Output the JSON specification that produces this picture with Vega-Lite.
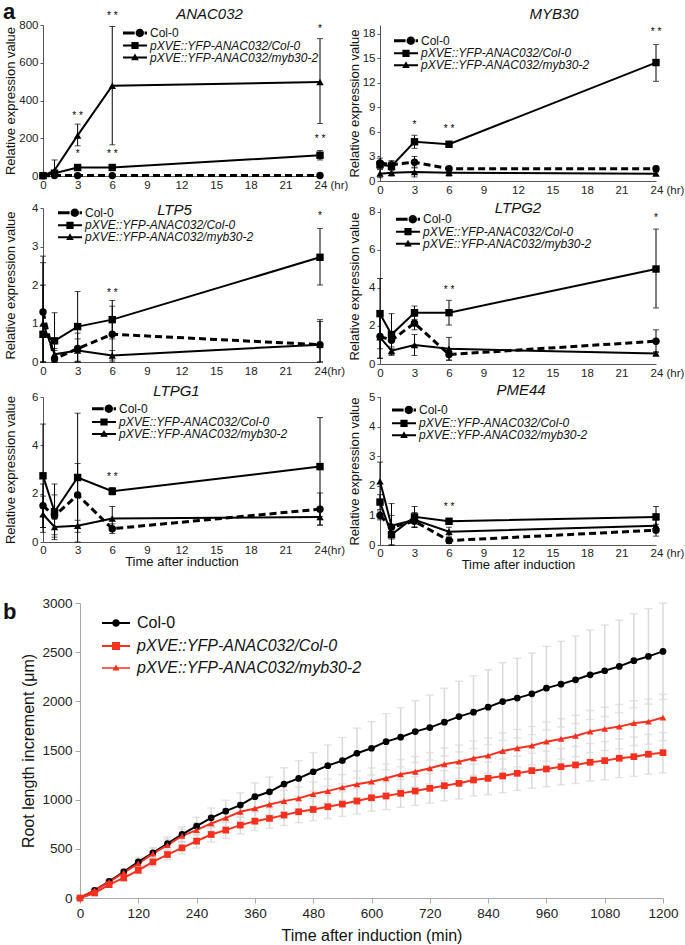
{
"$schema": "https://vega.github.io/schema/vega-lite/v6.json",
"padding": {"left": 3, "top": 0, "right": 0, "bottom": 0},
"title": {"text": "a", "anchor": "start", "frame": "bounds", "fontSize": 22, "fontWeight": "bold", "offset": -17, "dx": 0},
"datasets": {
"a": [
{"g":"ANAC032","s":"C","t":0,"v":1,"lo":0,"hi":3},{"g":"ANAC032","s":"C","t":1,"v":2,"lo":0,"hi":5},{"g":"ANAC032","s":"C","t":3,"v":2,"lo":0,"hi":5},{"g":"ANAC032","s":"C","t":6,"v":2,"lo":0,"hi":5},{"g":"ANAC032","s":"C","t":24,"v":3,"lo":0,"hi":8},
{"g":"ANAC032","s":"Y","t":0,"v":2,"lo":0,"hi":5},{"g":"ANAC032","s":"Y","t":1,"v":15,"lo":5,"hi":25},{"g":"ANAC032","s":"Y","t":3,"v":45,"lo":35,"hi":55},{"g":"ANAC032","s":"Y","t":6,"v":45,"lo":38,"hi":52},{"g":"ANAC032","s":"Y","t":24,"v":110,"lo":85,"hi":135},
{"g":"ANAC032","s":"M","t":0,"v":1,"lo":0,"hi":4},{"g":"ANAC032","s":"M","t":1,"v":30,"lo":0,"hi":85},{"g":"ANAC032","s":"M","t":3,"v":215,"lo":160,"hi":275},{"g":"ANAC032","s":"M","t":6,"v":478,"lo":165,"hi":792},{"g":"ANAC032","s":"M","t":24,"v":498,"lo":278,"hi":728},
{"g":"MYB30","s":"C","t":0,"v":2.2,"lo":1.6,"hi":2.8},{"g":"MYB30","s":"C","t":1,"v":2.0,"lo":1.5,"hi":2.5},{"g":"MYB30","s":"C","t":3,"v":2.3,"lo":1.6,"hi":3.0},{"g":"MYB30","s":"C","t":6,"v":1.5,"lo":1.2,"hi":1.8},{"g":"MYB30","s":"C","t":24,"v":1.5,"lo":1.2,"hi":1.8},
{"g":"MYB30","s":"Y","t":0,"v":2.0,"lo":1.5,"hi":2.5},{"g":"MYB30","s":"Y","t":1,"v":1.8,"lo":1.3,"hi":2.3},{"g":"MYB30","s":"Y","t":3,"v":4.8,"lo":4.0,"hi":5.6},{"g":"MYB30","s":"Y","t":6,"v":4.5,"lo":4.2,"hi":4.8},{"g":"MYB30","s":"Y","t":24,"v":14.5,"lo":12.2,"hi":16.7},
{"g":"MYB30","s":"M","t":0,"v":0.9,"lo":0.4,"hi":1.4},{"g":"MYB30","s":"M","t":1,"v":1.0,"lo":0.6,"hi":1.4},{"g":"MYB30","s":"M","t":3,"v":1.1,"lo":0.5,"hi":1.7},{"g":"MYB30","s":"M","t":6,"v":1.0,"lo":0.6,"hi":1.4},{"g":"MYB30","s":"M","t":24,"v":0.9,"lo":0.7,"hi":1.1},
{"g":"LTP5","s":"C","t":0,"v":1.3,"lo":0,"hi":2.58},{"g":"LTP5","s":"C","t":1,"v":0.08,"lo":0,"hi":0.3},{"g":"LTP5","s":"C","t":3,"v":0.35,"lo":0,"hi":0.75},{"g":"LTP5","s":"C","t":6,"v":0.72,"lo":0,"hi":1.45},{"g":"LTP5","s":"C","t":24,"v":0.45,"lo":0,"hi":1.05},
{"g":"LTP5","s":"Y","t":0,"v":0.72,"lo":0,"hi":2.75},{"g":"LTP5","s":"Y","t":1,"v":0.55,"lo":0,"hi":1.28},{"g":"LTP5","s":"Y","t":3,"v":0.92,"lo":0,"hi":1.83},{"g":"LTP5","s":"Y","t":6,"v":1.1,"lo":0.6,"hi":1.6},{"g":"LTP5","s":"Y","t":24,"v":2.72,"lo":2.0,"hi":3.47},
{"g":"LTP5","s":"M","t":0,"v":1.0,"lo":0,"hi":2.0},{"g":"LTP5","s":"M","t":1,"v":0.2,"lo":0.05,"hi":0.35},{"g":"LTP5","s":"M","t":3,"v":0.3,"lo":0.02,"hi":0.6},{"g":"LTP5","s":"M","t":6,"v":0.17,"lo":0.05,"hi":0.3},{"g":"LTP5","s":"M","t":24,"v":0.45,"lo":0,"hi":1.1},
{"g":"LTPG2","s":"C","t":0,"v":1.45,"lo":0.3,"hi":2.6},{"g":"LTPG2","s":"C","t":1,"v":1.25,"lo":0.8,"hi":1.7},{"g":"LTPG2","s":"C","t":3,"v":2.15,"lo":1.8,"hi":2.5},{"g":"LTPG2","s":"C","t":6,"v":0.5,"lo":0.2,"hi":0.8},{"g":"LTPG2","s":"C","t":24,"v":1.2,"lo":0.6,"hi":1.8},
{"g":"LTPG2","s":"Y","t":0,"v":2.65,"lo":0.8,"hi":4.5},{"g":"LTPG2","s":"Y","t":1,"v":1.55,"lo":0.45,"hi":2.65},{"g":"LTPG2","s":"Y","t":3,"v":2.7,"lo":2.35,"hi":3.05},{"g":"LTPG2","s":"Y","t":6,"v":2.7,"lo":2.05,"hi":3.35},{"g":"LTPG2","s":"Y","t":24,"v":5.0,"lo":2.95,"hi":7.1},
{"g":"LTPG2","s":"M","t":0,"v":1.4,"lo":0.3,"hi":2.5},{"g":"LTPG2","s":"M","t":1,"v":0.7,"lo":0.5,"hi":0.9},{"g":"LTPG2","s":"M","t":3,"v":1.0,"lo":0.45,"hi":1.55},{"g":"LTPG2","s":"M","t":6,"v":0.8,"lo":0.2,"hi":1.4},{"g":"LTPG2","s":"M","t":24,"v":0.55,"lo":0.45,"hi":0.65},
{"g":"LTPG1","s":"C","t":0,"v":1.5,"lo":0.6,"hi":2.4},{"g":"LTPG1","s":"C","t":1,"v":1.08,"lo":0.2,"hi":1.95},{"g":"LTPG1","s":"C","t":3,"v":1.95,"lo":0.65,"hi":3.25},{"g":"LTPG1","s":"C","t":6,"v":0.55,"lo":0.35,"hi":0.75},{"g":"LTPG1","s":"C","t":24,"v":1.36,"lo":0.7,"hi":2.03},
{"g":"LTPG1","s":"Y","t":0,"v":2.74,"lo":0.6,"hi":4.88},{"g":"LTPG1","s":"Y","t":1,"v":1.25,"lo":0.1,"hi":2.4},{"g":"LTPG1","s":"Y","t":3,"v":2.67,"lo":0,"hi":5.33},{"g":"LTPG1","s":"Y","t":6,"v":2.1,"lo":1.95,"hi":2.25},{"g":"LTPG1","s":"Y","t":24,"v":3.12,"lo":1.05,"hi":5.15},
{"g":"LTPG1","s":"M","t":0,"v":1.15,"lo":0.4,"hi":1.9},{"g":"LTPG1","s":"M","t":1,"v":0.62,"lo":0.3,"hi":0.95},{"g":"LTPG1","s":"M","t":3,"v":0.67,"lo":0.4,"hi":0.9},{"g":"LTPG1","s":"M","t":6,"v":0.97,"lo":0.47,"hi":1.47},{"g":"LTPG1","s":"M","t":24,"v":1.03,"lo":0.7,"hi":1.35},
{"g":"PME44","s":"C","t":0,"v":1.0,"lo":0.85,"hi":1.15},{"g":"PME44","s":"C","t":1,"v":0.6,"lo":0.2,"hi":1.0},{"g":"PME44","s":"C","t":3,"v":0.8,"lo":0.6,"hi":1.0},{"g":"PME44","s":"C","t":6,"v":0.15,"lo":0.05,"hi":0.25},{"g":"PME44","s":"C","t":24,"v":0.5,"lo":0.3,"hi":0.7},
{"g":"PME44","s":"Y","t":0,"v":1.45,"lo":1.2,"hi":1.7},{"g":"PME44","s":"Y","t":1,"v":0.35,"lo":0,"hi":0.7},{"g":"PME44","s":"Y","t":3,"v":0.95,"lo":0.6,"hi":1.3},{"g":"PME44","s":"Y","t":6,"v":0.8,"lo":0.7,"hi":0.9},{"g":"PME44","s":"Y","t":24,"v":0.95,"lo":0.6,"hi":1.3},
{"g":"PME44","s":"M","t":0,"v":2.15,"lo":1.5,"hi":2.8},{"g":"PME44","s":"M","t":1,"v":0.65,"lo":0,"hi":1.4},{"g":"PME44","s":"M","t":3,"v":0.85,"lo":0.6,"hi":1.1},{"g":"PME44","s":"M","t":6,"v":0.45,"lo":0.3,"hi":0.6},{"g":"PME44","s":"M","t":24,"v":0.65,"lo":0.45,"hi":0.85}
],
"stars": [
{"g":"ANAC032","t":3,"y":320,"lab":"* *"},{"g":"ANAC032","t":3,"y":118,"lab":"*"},{"g":"ANAC032","t":6,"y":850,"lab":"* *"},{"g":"ANAC032","t":6,"y":118,"lab":"* *"},{"g":"ANAC032","t":24,"y":780,"lab":"*"},{"g":"ANAC032","t":24,"y":197,"lab":"* *"},
{"g":"MYB30","t":3,"y":6.8,"lab":"*"},{"g":"MYB30","t":6,"y":6.4,"lab":"* *"},{"g":"MYB30","t":24,"y":18.2,"lab":"* *"},
{"g":"LTP5","t":6,"y":1.78,"lab":"* *"},{"g":"LTP5","t":24,"y":3.78,"lab":"*"},
{"g":"LTPG2","t":6,"y":3.9,"lab":"* *"},{"g":"LTPG2","t":24,"y":7.7,"lab":"*"},
{"g":"LTPG1","t":6,"y":2.67,"lab":"* *"},
{"g":"PME44","t":6,"y":1.3,"lab":"* *"}
],
"b": [
{"s":"C","t":0,"v":0,"e":0},{"s":"C","t":30,"v":78,"e":15},{"s":"C","t":60,"v":170,"e":25},{"s":"C","t":90,"v":265,"e":35},{"s":"C","t":120,"v":367,"e":45},{"s":"C","t":150,"v":459,"e":55},{"s":"C","t":180,"v":554,"e":65},{"s":"C","t":210,"v":646,"e":75},{"s":"C","t":240,"v":730,"e":90},{"s":"C","t":270,"v":815,"e":100},{"s":"C","t":300,"v":883,"e":110},{"s":"C","t":330,"v":945,"e":125},{"s":"C","t":360,"v":1030,"e":140},{"s":"C","t":390,"v":1080,"e":150},{"s":"C","t":420,"v":1159,"e":165},{"s":"C","t":450,"v":1216,"e":180},{"s":"C","t":480,"v":1284,"e":195},{"s":"C","t":510,"v":1346,"e":210},{"s":"C","t":540,"v":1397,"e":235},{"s":"C","t":570,"v":1472,"e":255},{"s":"C","t":600,"v":1523,"e":270},{"s":"C","t":630,"v":1590,"e":285},{"s":"C","t":660,"v":1635,"e":300},{"s":"C","t":690,"v":1692,"e":315},{"s":"C","t":720,"v":1733,"e":330},{"s":"C","t":750,"v":1788,"e":345},{"s":"C","t":780,"v":1845,"e":360},{"s":"C","t":810,"v":1890,"e":370},{"s":"C","t":840,"v":1941,"e":380},{"s":"C","t":870,"v":1998,"e":395},{"s":"C","t":900,"v":2033,"e":405},{"s":"C","t":930,"v":2076,"e":415},{"s":"C","t":960,"v":2134,"e":425},{"s":"C","t":990,"v":2175,"e":435},{"s":"C","t":1020,"v":2219,"e":445},{"s":"C","t":1050,"v":2270,"e":455},{"s":"C","t":1080,"v":2311,"e":465},{"s":"C","t":1110,"v":2355,"e":470},{"s":"C","t":1140,"v":2413,"e":478},{"s":"C","t":1170,"v":2457,"e":485},{"s":"C","t":1200,"v":2508,"e":490},
{"s":"M","t":0,"v":0,"e":0},{"s":"M","t":30,"v":78,"e":12},{"s":"M","t":60,"v":163,"e":20},{"s":"M","t":90,"v":258,"e":30},{"s":"M","t":120,"v":350,"e":40},{"s":"M","t":150,"v":452,"e":50},{"s":"M","t":180,"v":537,"e":60},{"s":"M","t":210,"v":632,"e":65},{"s":"M","t":240,"v":690,"e":75},{"s":"M","t":270,"v":758,"e":80},{"s":"M","t":300,"v":815,"e":90},{"s":"M","t":330,"v":877,"e":95},{"s":"M","t":360,"v":911,"e":100},{"s":"M","t":390,"v":951,"e":105},{"s":"M","t":420,"v":985,"e":110},{"s":"M","t":450,"v":1013,"e":115},{"s":"M","t":480,"v":1057,"e":120},{"s":"M","t":510,"v":1087,"e":125},{"s":"M","t":540,"v":1125,"e":130},{"s":"M","t":570,"v":1156,"e":135},{"s":"M","t":600,"v":1183,"e":140},{"s":"M","t":630,"v":1217,"e":145},{"s":"M","t":660,"v":1258,"e":150},{"s":"M","t":690,"v":1284,"e":155},{"s":"M","t":720,"v":1319,"e":160},{"s":"M","t":750,"v":1360,"e":165},{"s":"M","t":780,"v":1386,"e":170},{"s":"M","t":810,"v":1421,"e":175},{"s":"M","t":840,"v":1448,"e":180},{"s":"M","t":870,"v":1495,"e":185},{"s":"M","t":900,"v":1523,"e":190},{"s":"M","t":930,"v":1549,"e":195},{"s":"M","t":960,"v":1590,"e":200},{"s":"M","t":990,"v":1618,"e":205},{"s":"M","t":1020,"v":1648,"e":210},{"s":"M","t":1050,"v":1692,"e":215},{"s":"M","t":1080,"v":1720,"e":220},{"s":"M","t":1110,"v":1743,"e":225},{"s":"M","t":1140,"v":1778,"e":228},{"s":"M","t":1170,"v":1794,"e":230},{"s":"M","t":1200,"v":1835,"e":235},
{"s":"Y","t":0,"v":0,"e":0},{"s":"Y","t":30,"v":51,"e":12},{"s":"Y","t":60,"v":136,"e":20},{"s":"Y","t":90,"v":204,"e":28},{"s":"Y","t":120,"v":282,"e":35},{"s":"Y","t":150,"v":367,"e":45},{"s":"Y","t":180,"v":442,"e":55},{"s":"Y","t":210,"v":510,"e":62},{"s":"Y","t":240,"v":578,"e":70},{"s":"Y","t":270,"v":646,"e":78},{"s":"Y","t":300,"v":690,"e":85},{"s":"Y","t":330,"v":741,"e":90},{"s":"Y","t":360,"v":781,"e":95},{"s":"Y","t":390,"v":809,"e":100},{"s":"Y","t":420,"v":843,"e":105},{"s":"Y","t":450,"v":877,"e":110},{"s":"Y","t":480,"v":900,"e":115},{"s":"Y","t":510,"v":928,"e":120},{"s":"Y","t":540,"v":955,"e":125},{"s":"Y","t":570,"v":986,"e":130},{"s":"Y","t":600,"v":1019,"e":135},{"s":"Y","t":630,"v":1037,"e":138},{"s":"Y","t":660,"v":1064,"e":142},{"s":"Y","t":690,"v":1088,"e":146},{"s":"Y","t":720,"v":1115,"e":150},{"s":"Y","t":750,"v":1142,"e":154},{"s":"Y","t":780,"v":1166,"e":158},{"s":"Y","t":810,"v":1200,"e":162},{"s":"Y","t":840,"v":1217,"e":166},{"s":"Y","t":870,"v":1241,"e":170},{"s":"Y","t":900,"v":1268,"e":174},{"s":"Y","t":930,"v":1295,"e":178},{"s":"Y","t":960,"v":1312,"e":182},{"s":"Y","t":990,"v":1335,"e":185},{"s":"Y","t":1020,"v":1353,"e":188},{"s":"Y","t":1050,"v":1380,"e":191},{"s":"Y","t":1080,"v":1397,"e":194},{"s":"Y","t":1110,"v":1421,"e":197},{"s":"Y","t":1140,"v":1437,"e":200},{"s":"Y","t":1170,"v":1462,"e":202},{"s":"Y","t":1200,"v":1478,"e":205}
]
},
"columns": 1,
"spacing": 24,
"resolve": {"scale": {"x": "independent", "y": "independent", "shape": "independent", "color": "independent"}, "legend": {"shape": "independent", "color": "independent"}},
"concat": [
{"columns": 2, "spacing": {"row": 4, "column": 0},
 "resolve": {"scale": {"x": "independent", "y": "independent", "shape": "independent", "color": "independent"}, "legend": {"shape": "independent", "color": "independent"}},
 "concat": [
{"width": 277, "height": 151,
 "title": {"text": "ANAC032", "fontStyle": "italic", "fontWeight": "normal", "fontSize": 15, "frame": "group", "dx": 28, "offset": -11},
 "resolve": {"scale": {"shape": "independent"}, "legend": {"shape": "independent"}},
 "layer": [
  {"data": {"name": "a"}, "transform": [{"filter": "datum.g == 'ANAC032' && datum.s == 'C'"}], "mark": {"type": "line", "strokeDash": [7,4], "strokeWidth": 3, "color": "black"},
   "encoding": {
    "x": {"field": "t", "type": "quantitative", "scale": {"domain": [0,24], "nice": false}, "title": null, "axis": {"values": [0,3,6,9,12,15,18,21,24], "format": "d", "tickCount": 30, "labelOverlap": false, "labelExpr": "datum.value == 24 ? '24 (hr)' : datum.label", "labelAlign": {"condition": {"test": "datum.value == 24", "value": "left"}, "value": "center"}, "labelOffset": {"condition": {"test": "datum.value == 24", "value": -6}, "value": 0}, "ticks": false, "labelPadding": 3, "domainColor": "#555", "labelFontSize": 11.5}},
    "y": {"field": "v", "type": "quantitative", "scale": {"domain": [0,800], "nice": false}, "title": "Relative expression value", "axis": {"values": [0,200,400,600,800], "format": "d", "tickCount": 30, "labelOverlap": false, "tickSize": 3, "tickColor": "#555", "domainColor": "#555", "labelPadding": 2, "labelFontSize": 11.5, "titleFontSize": 13, "titleX": -33, "titleBaseline": "middle"}}}},
  {"data": {"name": "a"}, "transform": [{"filter": "datum.g == 'ANAC032' && datum.s != 'C'"}], "mark": {"type": "line", "strokeWidth": 2, "color": "black"},
   "encoding": {"x": {"field": "t", "type": "quantitative", "scale": {"domain": [0,24], "nice": false}, "title": null}, "y": {"field": "v", "type": "quantitative", "scale": {"domain": [0,800], "nice": false}, "title": "Relative expression value"}, "detail": {"field": "s"}}},
  {"data": {"name": "a"}, "transform": [{"filter": "datum.g == 'ANAC032'"}], "mark": {"type": "errorbar", "ticks": {"size": 6}, "color": "black", "thickness": 1},
   "encoding": {"x": {"field": "t", "type": "quantitative", "scale": {"domain": [0,24], "nice": false}, "title": null}, "y": {"field": "lo", "type": "quantitative", "scale": {"domain": [0,800], "nice": false}, "title": "Relative expression value"}, "y2": {"field": "hi"}}},
  {"data": {"name": "a"}, "transform": [{"filter": "datum.g == 'ANAC032'"}], "mark": {"type": "point", "filled": true, "opacity": 1, "color": "black", "size": 55},
   "encoding": {"x": {"field": "t", "type": "quantitative", "scale": {"domain": [0,24], "nice": false}, "title": null}, "y": {"field": "v", "type": "quantitative", "scale": {"domain": [0,800], "nice": false}, "title": "Relative expression value"},
    "shape": {"field": "s", "type": "nominal", "scale": {"domain": ["C","Y","M"], "range": ["circle","square","triangle-up"]}, "legend": null}}},
  {"data": {"name": "stars"}, "transform": [{"filter": "datum.g == 'ANAC032'"}], "mark": {"type": "text", "fontSize": 10, "baseline": "middle"},
   "encoding": {"x": {"field": "t", "type": "quantitative", "scale": {"domain": [0,24], "nice": false}, "title": null}, "y": {"field": "y", "type": "quantitative", "scale": {"domain": [0,800], "nice": false}, "title": "Relative expression value"}, "text": {"field": "lab"}}},
  {"data": {"name": "a"}, "transform": [{"filter": "datum.t < 0"}], "mark": {"type": "point", "filled": true, "opacity": 1, "color": "black"},
   "encoding": {"shape": {"field": "s", "type": "nominal", "scale": {"domain": ["C"], "range": ["M-1,-0.375H1.9V0.375H-1Z M4.25,0A1.05,1.05,0,1,1,2.15,0A1.05,1.05,0,1,1,4.25,0Z M4.4,-0.375H5V0.375H4.4Z"]},
    "legend": {"title": null, "orient": "none", "legendX": 78, "legendY": 2, "symbolSize": 64, "symbolStrokeWidth": 0, "labelFontSize": 12, "labelLimit": 0, "labelOffset": 17, "rowPadding": 0, "labelExpr": "'Col-0'", "labelFontStyle": "normal"}}}},
  {"data": {"name": "a"}, "transform": [{"filter": "datum.t < 0"}], "mark": {"type": "point", "filled": true, "opacity": 1, "color": "black"},
   "encoding": {"shape": {"field": "s", "type": "nominal", "scale": {"domain": ["Y","M"], "range": ["M-1,-0.25H5V0.25H-1Z M1.1,-0.9H2.9V0.9H1.1Z", "M-1,-0.25H5V0.25H-1Z M2,-1L2.95,0.7H1.05Z"]},
    "legend": {"title": null, "orient": "none", "legendX": 78, "legendY": 14.5, "symbolSize": 64, "symbolStrokeWidth": 0, "labelFontSize": 12, "labelLimit": 0, "labelOffset": 17, "rowPadding": 0, "labelExpr": "datum.value == 'Y' ? 'pXVE::YFP-ANAC032/Col-0' : 'pXVE::YFP-ANAC032/myb30-2'", "labelFontStyle": "italic"}}}}
 ]},
{"width": 276, "height": 156,
 "title": {"text": "MYB30", "fontStyle": "italic", "fontWeight": "normal", "fontSize": 15, "frame": "group", "dx": 36, "offset": 3},
 "resolve": {"scale": {"shape": "independent"}, "legend": {"shape": "independent"}},
 "layer": [
  {"data": {"name": "a"}, "transform": [{"filter": "datum.g == 'MYB30' && datum.s == 'C'"}], "mark": {"type": "line", "strokeDash": [7,4], "strokeWidth": 3, "color": "black"},
   "encoding": {
    "x": {"field": "t", "type": "quantitative", "scale": {"domain": [0,24], "nice": false}, "title": null, "axis": {"values": [0,3,6,9,12,15,18,21,24], "format": "d", "tickCount": 30, "labelOverlap": false, "labelExpr": "datum.value == 24 ? '24 (hr)' : datum.label", "labelAlign": {"condition": {"test": "datum.value == 24", "value": "left"}, "value": "center"}, "labelOffset": {"condition": {"test": "datum.value == 24", "value": -6}, "value": 0}, "ticks": false, "labelPadding": 3, "domainColor": "#555", "labelFontSize": 11.5}},
    "y": {"field": "v", "type": "quantitative", "scale": {"domain": [0,19.1], "nice": false}, "title": "Relative expression value", "axis": {"values": [0,3,6,9,12,15,18], "format": "d", "tickCount": 30, "labelOverlap": false, "tickSize": 3, "tickColor": "#555", "domainColor": "#555", "labelPadding": 2, "labelFontSize": 11.5, "titleFontSize": 13, "titleX": -26, "titleBaseline": "middle"}}}},
  {"data": {"name": "a"}, "transform": [{"filter": "datum.g == 'MYB30' && datum.s != 'C'"}], "mark": {"type": "line", "strokeWidth": 2, "color": "black"},
   "encoding": {"x": {"field": "t", "type": "quantitative", "scale": {"domain": [0,24], "nice": false}, "title": null}, "y": {"field": "v", "type": "quantitative", "scale": {"domain": [0,19.1], "nice": false}, "title": "Relative expression value"}, "detail": {"field": "s"}}},
  {"data": {"name": "a"}, "transform": [{"filter": "datum.g == 'MYB30'"}], "mark": {"type": "errorbar", "ticks": {"size": 6}, "color": "black", "thickness": 1},
   "encoding": {"x": {"field": "t", "type": "quantitative", "scale": {"domain": [0,24], "nice": false}, "title": null}, "y": {"field": "lo", "type": "quantitative", "scale": {"domain": [0,19.1], "nice": false}, "title": "Relative expression value"}, "y2": {"field": "hi"}}},
  {"data": {"name": "a"}, "transform": [{"filter": "datum.g == 'MYB30'"}], "mark": {"type": "point", "filled": true, "opacity": 1, "color": "black", "size": 55},
   "encoding": {"x": {"field": "t", "type": "quantitative", "scale": {"domain": [0,24], "nice": false}, "title": null}, "y": {"field": "v", "type": "quantitative", "scale": {"domain": [0,19.1], "nice": false}, "title": "Relative expression value"},
    "shape": {"field": "s", "type": "nominal", "scale": {"domain": ["C","Y","M"], "range": ["circle","square","triangle-up"]}, "legend": null}}},
  {"data": {"name": "stars"}, "transform": [{"filter": "datum.g == 'MYB30'"}], "mark": {"type": "text", "fontSize": 10, "baseline": "middle"},
   "encoding": {"x": {"field": "t", "type": "quantitative", "scale": {"domain": [0,24], "nice": false}, "title": null}, "y": {"field": "y", "type": "quantitative", "scale": {"domain": [0,19.1], "nice": false}, "title": "Relative expression value"}, "text": {"field": "lab"}}},
  {"data": {"name": "a"}, "transform": [{"filter": "datum.t < 0"}], "mark": {"type": "point", "filled": true, "opacity": 1, "color": "black"},
   "encoding": {"shape": {"field": "s", "type": "nominal", "scale": {"domain": ["C"], "range": ["M-1,-0.375H1.9V0.375H-1Z M4.25,0A1.05,1.05,0,1,1,2.15,0A1.05,1.05,0,1,1,4.25,0Z M4.4,-0.375H5V0.375H4.4Z"]},
    "legend": {"title": null, "orient": "none", "legendX": 12, "legendY": 9.7, "symbolSize": 64, "symbolStrokeWidth": 0, "labelFontSize": 12, "labelLimit": 0, "labelOffset": 17, "rowPadding": 0, "labelExpr": "'Col-0'", "labelFontStyle": "normal"}}}},
  {"data": {"name": "a"}, "transform": [{"filter": "datum.t < 0"}], "mark": {"type": "point", "filled": true, "opacity": 1, "color": "black"},
   "encoding": {"shape": {"field": "s", "type": "nominal", "scale": {"domain": ["Y","M"], "range": ["M-1,-0.25H5V0.25H-1Z M1.1,-0.9H2.9V0.9H1.1Z", "M-1,-0.25H5V0.25H-1Z M2,-1L2.95,0.7H1.05Z"]},
    "legend": {"title": null, "orient": "none", "legendX": 12, "legendY": 22.3, "symbolSize": 64, "symbolStrokeWidth": 0, "labelFontSize": 12, "labelLimit": 0, "labelOffset": 17, "rowPadding": 0, "labelExpr": "datum.value == 'Y' ? 'pXVE::YFP-ANAC032/Col-0' : 'pXVE::YFP-ANAC032/myb30-2'", "labelFontStyle": "italic"}}}}
 ]},
{"width": 277, "height": 154,
 "title": {"text": "LTP5", "fontStyle": "italic", "fontWeight": "normal", "fontSize": 15, "frame": "group", "dx": -7, "offset": -16},
 "resolve": {"scale": {"shape": "independent"}, "legend": {"shape": "independent"}},
 "layer": [
  {"data": {"name": "a"}, "transform": [{"filter": "datum.g == 'LTP5' && datum.s == 'C'"}], "mark": {"type": "line", "strokeDash": [7,4], "strokeWidth": 3, "color": "black"},
   "encoding": {
    "x": {"field": "t", "type": "quantitative", "scale": {"domain": [0,24], "nice": false}, "title": null, "axis": {"values": [0,3,6,9,12,15,18,21,24], "format": "d", "tickCount": 30, "labelOverlap": false, "labelExpr": "datum.value == 24 ? '24(hr)' : datum.label", "labelAlign": {"condition": {"test": "datum.value == 24", "value": "left"}, "value": "center"}, "labelOffset": {"condition": {"test": "datum.value == 24", "value": -6}, "value": 0}, "ticks": false, "labelPadding": 3, "domainColor": "#555", "labelFontSize": 11.5}},
    "y": {"field": "v", "type": "quantitative", "scale": {"domain": [0,4], "nice": false}, "title": "Relative expression value", "axis": {"values": [0,1,2,3,4], "format": "d", "tickCount": 30, "labelOverlap": false, "tickSize": 3, "tickColor": "#555", "domainColor": "#555", "labelPadding": 2, "labelFontSize": 11.5, "titleFontSize": 13, "titleX": -33, "titleBaseline": "middle"}}}},
  {"data": {"name": "a"}, "transform": [{"filter": "datum.g == 'LTP5' && datum.s != 'C'"}], "mark": {"type": "line", "strokeWidth": 2, "color": "black"},
   "encoding": {"x": {"field": "t", "type": "quantitative", "scale": {"domain": [0,24], "nice": false}, "title": null}, "y": {"field": "v", "type": "quantitative", "scale": {"domain": [0,4], "nice": false}, "title": "Relative expression value"}, "detail": {"field": "s"}}},
  {"data": {"name": "a"}, "transform": [{"filter": "datum.g == 'LTP5'"}], "mark": {"type": "errorbar", "ticks": {"size": 6}, "color": "black", "thickness": 1},
   "encoding": {"x": {"field": "t", "type": "quantitative", "scale": {"domain": [0,24], "nice": false}, "title": null}, "y": {"field": "lo", "type": "quantitative", "scale": {"domain": [0,4], "nice": false}, "title": "Relative expression value"}, "y2": {"field": "hi"}}},
  {"data": {"name": "a"}, "transform": [{"filter": "datum.g == 'LTP5'"}], "mark": {"type": "point", "filled": true, "opacity": 1, "color": "black", "size": 55},
   "encoding": {"x": {"field": "t", "type": "quantitative", "scale": {"domain": [0,24], "nice": false}, "title": null}, "y": {"field": "v", "type": "quantitative", "scale": {"domain": [0,4], "nice": false}, "title": "Relative expression value"},
    "shape": {"field": "s", "type": "nominal", "scale": {"domain": ["C","Y","M"], "range": ["circle","square","triangle-up"]}, "legend": null}}},
  {"data": {"name": "stars"}, "transform": [{"filter": "datum.g == 'LTP5'"}], "mark": {"type": "text", "fontSize": 10, "baseline": "middle"},
   "encoding": {"x": {"field": "t", "type": "quantitative", "scale": {"domain": [0,24], "nice": false}, "title": null}, "y": {"field": "y", "type": "quantitative", "scale": {"domain": [0,4], "nice": false}, "title": "Relative expression value"}, "text": {"field": "lab"}}},
  {"data": {"name": "a"}, "transform": [{"filter": "datum.t < 0"}], "mark": {"type": "point", "filled": true, "opacity": 1, "color": "black"},
   "encoding": {"shape": {"field": "s", "type": "nominal", "scale": {"domain": ["C"], "range": ["M-1,-0.375H1.9V0.375H-1Z M4.25,0A1.05,1.05,0,1,1,2.15,0A1.05,1.05,0,1,1,4.25,0Z M4.4,-0.375H5V0.375H4.4Z"]},
    "legend": {"title": null, "orient": "none", "legendX": 13, "legendY": -1.3, "symbolSize": 64, "symbolStrokeWidth": 0, "labelFontSize": 12, "labelLimit": 0, "labelOffset": 17, "rowPadding": 0, "labelExpr": "'Col-0'", "labelFontStyle": "normal"}}}},
  {"data": {"name": "a"}, "transform": [{"filter": "datum.t < 0"}], "mark": {"type": "point", "filled": true, "opacity": 1, "color": "black"},
   "encoding": {"shape": {"field": "s", "type": "nominal", "scale": {"domain": ["Y","M"], "range": ["M-1,-0.25H5V0.25H-1Z M1.1,-0.9H2.9V0.9H1.1Z", "M-1,-0.25H5V0.25H-1Z M2,-1L2.95,0.7H1.05Z"]},
    "legend": {"title": null, "orient": "none", "legendX": 13, "legendY": 11.3, "symbolSize": 64, "symbolStrokeWidth": 0, "labelFontSize": 12, "labelLimit": 0, "labelOffset": 17, "rowPadding": 0, "labelExpr": "datum.value == 'Y' ? 'pXVE::YFP-ANAC032/Col-0' : 'pXVE::YFP-ANAC032/myb30-2'", "labelFontStyle": "italic"}}}}
 ]},
{"width": 276, "height": 156,
 "title": {"text": "LTPG2", "fontStyle": "italic", "fontWeight": "normal", "fontSize": 15, "frame": "group", "dx": 0, "offset": -10},
 "resolve": {"scale": {"shape": "independent"}, "legend": {"shape": "independent"}},
 "layer": [
  {"data": {"name": "a"}, "transform": [{"filter": "datum.g == 'LTPG2' && datum.s == 'C'"}], "mark": {"type": "line", "strokeDash": [7,4], "strokeWidth": 3, "color": "black"},
   "encoding": {
    "x": {"field": "t", "type": "quantitative", "scale": {"domain": [0,24], "nice": false}, "title": null, "axis": {"values": [0,3,6,9,12,15,18,21,24], "format": "d", "tickCount": 30, "labelOverlap": false, "labelExpr": "datum.value == 24 ? '24 (hr)' : datum.label", "labelAlign": {"condition": {"test": "datum.value == 24", "value": "left"}, "value": "center"}, "labelOffset": {"condition": {"test": "datum.value == 24", "value": -6}, "value": 0}, "ticks": false, "labelPadding": 3, "domainColor": "#555", "labelFontSize": 11.5}},
    "y": {"field": "v", "type": "quantitative", "scale": {"domain": [0,8.21], "nice": false}, "title": "Relative expression value", "axis": {"values": [0,2,4,6,8], "format": "d", "tickCount": 30, "labelOverlap": false, "tickSize": 3, "tickColor": "#555", "domainColor": "#555", "labelPadding": 2, "labelFontSize": 11.5, "titleFontSize": 13, "titleX": -26, "titleBaseline": "middle"}}}},
  {"data": {"name": "a"}, "transform": [{"filter": "datum.g == 'LTPG2' && datum.s != 'C'"}], "mark": {"type": "line", "strokeWidth": 2, "color": "black"},
   "encoding": {"x": {"field": "t", "type": "quantitative", "scale": {"domain": [0,24], "nice": false}, "title": null}, "y": {"field": "v", "type": "quantitative", "scale": {"domain": [0,8.21], "nice": false}, "title": "Relative expression value"}, "detail": {"field": "s"}}},
  {"data": {"name": "a"}, "transform": [{"filter": "datum.g == 'LTPG2'"}], "mark": {"type": "errorbar", "ticks": {"size": 6}, "color": "black", "thickness": 1},
   "encoding": {"x": {"field": "t", "type": "quantitative", "scale": {"domain": [0,24], "nice": false}, "title": null}, "y": {"field": "lo", "type": "quantitative", "scale": {"domain": [0,8.21], "nice": false}, "title": "Relative expression value"}, "y2": {"field": "hi"}}},
  {"data": {"name": "a"}, "transform": [{"filter": "datum.g == 'LTPG2'"}], "mark": {"type": "point", "filled": true, "opacity": 1, "color": "black", "size": 55},
   "encoding": {"x": {"field": "t", "type": "quantitative", "scale": {"domain": [0,24], "nice": false}, "title": null}, "y": {"field": "v", "type": "quantitative", "scale": {"domain": [0,8.21], "nice": false}, "title": "Relative expression value"},
    "shape": {"field": "s", "type": "nominal", "scale": {"domain": ["C","Y","M"], "range": ["circle","square","triangle-up"]}, "legend": null}}},
  {"data": {"name": "stars"}, "transform": [{"filter": "datum.g == 'LTPG2'"}], "mark": {"type": "text", "fontSize": 10, "baseline": "middle"},
   "encoding": {"x": {"field": "t", "type": "quantitative", "scale": {"domain": [0,24], "nice": false}, "title": null}, "y": {"field": "y", "type": "quantitative", "scale": {"domain": [0,8.21], "nice": false}, "title": "Relative expression value"}, "text": {"field": "lab"}}},
  {"data": {"name": "a"}, "transform": [{"filter": "datum.t < 0"}], "mark": {"type": "point", "filled": true, "opacity": 1, "color": "black"},
   "encoding": {"shape": {"field": "s", "type": "nominal", "scale": {"domain": ["C"], "range": ["M-1,-0.375H1.9V0.375H-1Z M4.25,0A1.05,1.05,0,1,1,2.15,0A1.05,1.05,0,1,1,4.25,0Z M4.4,-0.375H5V0.375H4.4Z"]},
    "legend": {"title": null, "orient": "none", "legendX": 14, "legendY": 5.3, "symbolSize": 64, "symbolStrokeWidth": 0, "labelFontSize": 12, "labelLimit": 0, "labelOffset": 17, "rowPadding": 0, "labelExpr": "'Col-0'", "labelFontStyle": "normal"}}}},
  {"data": {"name": "a"}, "transform": [{"filter": "datum.t < 0"}], "mark": {"type": "point", "filled": true, "opacity": 1, "color": "black"},
   "encoding": {"shape": {"field": "s", "type": "nominal", "scale": {"domain": ["Y","M"], "range": ["M-1,-0.25H5V0.25H-1Z M1.1,-0.9H2.9V0.9H1.1Z", "M-1,-0.25H5V0.25H-1Z M2,-1L2.95,0.7H1.05Z"]},
    "legend": {"title": null, "orient": "none", "legendX": 14, "legendY": 17.7, "symbolSize": 64, "symbolStrokeWidth": 0, "labelFontSize": 12, "labelLimit": 0, "labelOffset": 17, "rowPadding": 0, "labelExpr": "datum.value == 'Y' ? 'pXVE::YFP-ANAC032/Col-0' : 'pXVE::YFP-ANAC032/myb30-2'", "labelFontStyle": "italic"}}}}
 ]},
{"width": 277, "height": 145,
 "title": {"text": "LTPG1", "fontStyle": "italic", "fontWeight": "normal", "fontSize": 15, "frame": "group", "dx": -5, "offset": -8},
 "resolve": {"scale": {"shape": "independent"}, "legend": {"shape": "independent"}},
 "layer": [
  {"data": {"name": "a"}, "transform": [{"filter": "datum.g == 'LTPG1' && datum.s == 'C'"}], "mark": {"type": "line", "strokeDash": [7,4], "strokeWidth": 3, "color": "black"},
   "encoding": {
    "x": {"field": "t", "type": "quantitative", "scale": {"domain": [0,24], "nice": false}, "title": "Time after induction", "axis": {"values": [0,3,6,9,12,15,18,21,24], "format": "d", "tickCount": 30, "labelOverlap": false, "labelExpr": "datum.value == 24 ? '24(hr)' : datum.label", "labelAlign": {"condition": {"test": "datum.value == 24", "value": "left"}, "value": "center"}, "labelOffset": {"condition": {"test": "datum.value == 24", "value": -6}, "value": 0}, "ticks": false, "labelPadding": 2, "domainColor": "#555", "labelFontSize": 11.5, "titleFontSize": 13, "titlePadding": 0}},
    "y": {"field": "v", "type": "quantitative", "scale": {"domain": [0,6], "nice": false}, "title": "Relative expression value", "axis": {"values": [0,2,4,6], "format": "d", "tickCount": 30, "labelOverlap": false, "tickSize": 3, "tickColor": "#555", "domainColor": "#555", "labelPadding": 2, "labelFontSize": 11.5, "titleFontSize": 13, "titleX": -33, "titleBaseline": "middle"}}}},
  {"data": {"name": "a"}, "transform": [{"filter": "datum.g == 'LTPG1' && datum.s != 'C'"}], "mark": {"type": "line", "strokeWidth": 2, "color": "black"},
   "encoding": {"x": {"field": "t", "type": "quantitative", "scale": {"domain": [0,24], "nice": false}, "title": "Time after induction"}, "y": {"field": "v", "type": "quantitative", "scale": {"domain": [0,6], "nice": false}, "title": "Relative expression value"}, "detail": {"field": "s"}}},
  {"data": {"name": "a"}, "transform": [{"filter": "datum.g == 'LTPG1'"}], "mark": {"type": "errorbar", "ticks": {"size": 6}, "color": "black", "thickness": 1},
   "encoding": {"x": {"field": "t", "type": "quantitative", "scale": {"domain": [0,24], "nice": false}, "title": "Time after induction"}, "y": {"field": "lo", "type": "quantitative", "scale": {"domain": [0,6], "nice": false}, "title": "Relative expression value"}, "y2": {"field": "hi"}}},
  {"data": {"name": "a"}, "transform": [{"filter": "datum.g == 'LTPG1'"}], "mark": {"type": "point", "filled": true, "opacity": 1, "color": "black", "size": 55},
   "encoding": {"x": {"field": "t", "type": "quantitative", "scale": {"domain": [0,24], "nice": false}, "title": "Time after induction"}, "y": {"field": "v", "type": "quantitative", "scale": {"domain": [0,6], "nice": false}, "title": "Relative expression value"},
    "shape": {"field": "s", "type": "nominal", "scale": {"domain": ["C","Y","M"], "range": ["circle","square","triangle-up"]}, "legend": null}}},
  {"data": {"name": "stars"}, "transform": [{"filter": "datum.g == 'LTPG1'"}], "mark": {"type": "text", "fontSize": 10, "baseline": "middle"},
   "encoding": {"x": {"field": "t", "type": "quantitative", "scale": {"domain": [0,24], "nice": false}, "title": "Time after induction"}, "y": {"field": "y", "type": "quantitative", "scale": {"domain": [0,6], "nice": false}, "title": "Relative expression value"}, "text": {"field": "lab"}}},
  {"data": {"name": "a"}, "transform": [{"filter": "datum.t < 0"}], "mark": {"type": "point", "filled": true, "opacity": 1, "color": "black"},
   "encoding": {"shape": {"field": "s", "type": "nominal", "scale": {"domain": ["C"], "range": ["M-1,-0.375H1.9V0.375H-1Z M4.25,0A1.05,1.05,0,1,1,2.15,0A1.05,1.05,0,1,1,4.25,0Z M4.4,-0.375H5V0.375H4.4Z"]},
    "legend": {"title": null, "orient": "none", "legendX": 47, "legendY": 5.7, "symbolSize": 64, "symbolStrokeWidth": 0, "labelFontSize": 12, "labelLimit": 0, "labelOffset": 17, "rowPadding": 0, "labelExpr": "'Col-0'", "labelFontStyle": "normal"}}}},
  {"data": {"name": "a"}, "transform": [{"filter": "datum.t < 0"}], "mark": {"type": "point", "filled": true, "opacity": 1, "color": "black"},
   "encoding": {"shape": {"field": "s", "type": "nominal", "scale": {"domain": ["Y","M"], "range": ["M-1,-0.25H5V0.25H-1Z M1.1,-0.9H2.9V0.9H1.1Z", "M-1,-0.25H5V0.25H-1Z M2,-1L2.95,0.7H1.05Z"]},
    "legend": {"title": null, "orient": "none", "legendX": 47, "legendY": 19, "symbolSize": 64, "symbolStrokeWidth": 0, "labelFontSize": 12, "labelLimit": 0, "labelOffset": 17, "rowPadding": 0, "labelExpr": "datum.value == 'Y' ? 'pXVE::YFP-ANAC032/Col-0' : 'pXVE::YFP-ANAC032/myb30-2'", "labelFontStyle": "italic"}}}}
 ]},
{"width": 276, "height": 148,
 "title": {"text": "PME44", "fontStyle": "italic", "fontWeight": "normal", "fontSize": 15, "frame": "group", "dx": 3, "offset": -7},
 "resolve": {"scale": {"shape": "independent"}, "legend": {"shape": "independent"}},
 "layer": [
  {"data": {"name": "a"}, "transform": [{"filter": "datum.g == 'PME44' && datum.s == 'C'"}], "mark": {"type": "line", "strokeDash": [7,4], "strokeWidth": 3, "color": "black"},
   "encoding": {
    "x": {"field": "t", "type": "quantitative", "scale": {"domain": [0,24], "nice": false}, "title": "Time after induction", "axis": {"values": [0,3,6,9,12,15,18,21,24], "format": "d", "tickCount": 30, "labelOverlap": false, "labelExpr": "datum.value == 24 ? '24 (hr)' : datum.label", "labelAlign": {"condition": {"test": "datum.value == 24", "value": "left"}, "value": "center"}, "labelOffset": {"condition": {"test": "datum.value == 24", "value": -6}, "value": 0}, "ticks": false, "labelPadding": 2, "domainColor": "#555", "labelFontSize": 11.5, "titleFontSize": 13, "titlePadding": 0}},
    "y": {"field": "v", "type": "quantitative", "scale": {"domain": [0,5], "nice": false}, "title": "Relative expression value", "axis": {"values": [0,1,2,3,4,5], "format": "d", "tickCount": 30, "labelOverlap": false, "tickSize": 3, "tickColor": "#555", "domainColor": "#555", "labelPadding": 2, "labelFontSize": 11.5, "titleFontSize": 13, "titleX": -26, "titleBaseline": "middle"}}}},
  {"data": {"name": "a"}, "transform": [{"filter": "datum.g == 'PME44' && datum.s != 'C'"}], "mark": {"type": "line", "strokeWidth": 2, "color": "black"},
   "encoding": {"x": {"field": "t", "type": "quantitative", "scale": {"domain": [0,24], "nice": false}, "title": "Time after induction"}, "y": {"field": "v", "type": "quantitative", "scale": {"domain": [0,5], "nice": false}, "title": "Relative expression value"}, "detail": {"field": "s"}}},
  {"data": {"name": "a"}, "transform": [{"filter": "datum.g == 'PME44'"}], "mark": {"type": "errorbar", "ticks": {"size": 6}, "color": "black", "thickness": 1},
   "encoding": {"x": {"field": "t", "type": "quantitative", "scale": {"domain": [0,24], "nice": false}, "title": "Time after induction"}, "y": {"field": "lo", "type": "quantitative", "scale": {"domain": [0,5], "nice": false}, "title": "Relative expression value"}, "y2": {"field": "hi"}}},
  {"data": {"name": "a"}, "transform": [{"filter": "datum.g == 'PME44'"}], "mark": {"type": "point", "filled": true, "opacity": 1, "color": "black", "size": 55},
   "encoding": {"x": {"field": "t", "type": "quantitative", "scale": {"domain": [0,24], "nice": false}, "title": "Time after induction"}, "y": {"field": "v", "type": "quantitative", "scale": {"domain": [0,5], "nice": false}, "title": "Relative expression value"},
    "shape": {"field": "s", "type": "nominal", "scale": {"domain": ["C","Y","M"], "range": ["circle","square","triangle-up"]}, "legend": null}}},
  {"data": {"name": "stars"}, "transform": [{"filter": "datum.g == 'PME44'"}], "mark": {"type": "text", "fontSize": 10, "baseline": "middle"},
   "encoding": {"x": {"field": "t", "type": "quantitative", "scale": {"domain": [0,24], "nice": false}, "title": "Time after induction"}, "y": {"field": "y", "type": "quantitative", "scale": {"domain": [0,5], "nice": false}, "title": "Relative expression value"}, "text": {"field": "lab"}}},
  {"data": {"name": "a"}, "transform": [{"filter": "datum.t < 0"}], "mark": {"type": "point", "filled": true, "opacity": 1, "color": "black"},
   "encoding": {"shape": {"field": "s", "type": "nominal", "scale": {"domain": ["C"], "range": ["M-1,-0.375H1.9V0.375H-1Z M4.25,0A1.05,1.05,0,1,1,2.15,0A1.05,1.05,0,1,1,4.25,0Z M4.4,-0.375H5V0.375H4.4Z"]},
    "legend": {"title": null, "orient": "none", "legendX": 10, "legendY": 7, "symbolSize": 64, "symbolStrokeWidth": 0, "labelFontSize": 12, "labelLimit": 0, "labelOffset": 17, "rowPadding": 0, "labelExpr": "'Col-0'", "labelFontStyle": "normal"}}}},
  {"data": {"name": "a"}, "transform": [{"filter": "datum.t < 0"}], "mark": {"type": "point", "filled": true, "opacity": 1, "color": "black"},
   "encoding": {"shape": {"field": "s", "type": "nominal", "scale": {"domain": ["Y","M"], "range": ["M-1,-0.25H5V0.25H-1Z M1.1,-0.9H2.9V0.9H1.1Z", "M-1,-0.25H5V0.25H-1Z M2,-1L2.95,0.7H1.05Z"]},
    "legend": {"title": null, "orient": "none", "legendX": 10, "legendY": 20.3, "symbolSize": 64, "symbolStrokeWidth": 0, "labelFontSize": 12, "labelLimit": 0, "labelOffset": 17, "rowPadding": 0, "labelExpr": "datum.value == 'Y' ? 'pXVE::YFP-ANAC032/Col-0' : 'pXVE::YFP-ANAC032/myb30-2'", "labelFontStyle": "italic"}}}}
 ]}
]},
{"hconcat": [
 {"width": 37, "height": 295, "data": {"values": [{"k": 0}]}, "mark": {"type": "point", "opacity": 0}},
 {"width": 583, "height": 295,
 "title": {"text": "b", "anchor": "start", "frame": "bounds", "fontSize": 22, "fontWeight": "bold", "fontStyle": "normal", "offset": -27.5, "dx": -17},
 "resolve": {"scale": {"shape": "independent"}, "legend": {"shape": "independent"}},
 "layer": [
  {"data": {"name": "b"}, "mark": {"type": "errorbar", "ticks": {"size": 8}, "color": "#d9d9d9", "thickness": 1.5},
   "encoding": {
    "x": {"field": "t", "type": "quantitative", "scale": {"domain": [0,1200], "nice": false}, "title": "Time after induction (min)", "axis": {"values": [0,120,240,360,480,600,720,840,960,1080,1200], "format": "d", "tickCount": 30, "labelOverlap": false, "tickSize": 5, "tickColor": "#aaa", "domainColor": "#aaa", "labelFontSize": 13.5, "labelPadding": 3, "titleFontSize": 16, "titlePadding": 8}},
    "y": {"field": "v", "type": "quantitative", "scale": {"domain": [0,3000], "nice": false}, "title": "Root length increment (μm)", "axis": {"values": [0,500,1000,1500,2000,2500,3000], "format": "d", "tickCount": 30, "labelOverlap": false, "tickSize": 5, "tickColor": "#aaa", "domainColor": "#aaa", "labelFontSize": 13.5, "labelPadding": 3, "titleFontSize": 16, "titleX": -52, "titleBaseline": "middle"}},
    "yError": {"field": "e"}}},
  {"data": {"name": "b"}, "mark": {"type": "line", "strokeWidth": 2},
   "encoding": {"x": {"field": "t", "type": "quantitative", "scale": {"domain": [0,1200], "nice": false}, "title": "Time after induction (min)"}, "y": {"field": "v", "type": "quantitative", "scale": {"domain": [0,3000], "nice": false}, "title": "Root length increment (μm)"},
    "color": {"field": "s", "type": "nominal", "scale": {"domain": ["C","Y","M"], "range": ["#000000","#f5301e","#f5301e"]}, "legend": null}}},
  {"data": {"name": "b"}, "mark": {"type": "point", "filled": true, "opacity": 1, "size": 45},
   "encoding": {"x": {"field": "t", "type": "quantitative", "scale": {"domain": [0,1200], "nice": false}, "title": "Time after induction (min)"}, "y": {"field": "v", "type": "quantitative", "scale": {"domain": [0,3000], "nice": false}, "title": "Root length increment (μm)"},
    "color": {"field": "s", "type": "nominal", "scale": {"domain": ["C","Y","M"], "range": ["#000000","#f5301e","#f5301e"]}, "legend": null},
    "shape": {"field": "s", "type": "nominal", "scale": {"domain": ["C","Y","M"], "range": ["circle","square","triangle-up"]}, "legend": null}}},
  {"data": {"name": "b"}, "transform": [{"filter": "datum.t < 0"}], "mark": {"type": "point", "filled": true, "opacity": 1, "color": "#000000"},
   "encoding": {"shape": {"field": "s", "type": "nominal", "scale": {"domain": ["C"], "range": ["M-1,-0.2H4.6V0.2H-1Z M2.55,0A0.75,0.75,0,1,1,1.05,0A0.75,0.75,0,1,1,2.55,0Z"]},
    "legend": {"title": null, "orient": "none", "legendX": 19, "legendY": 12, "symbolSize": 100, "symbolStrokeWidth": 0, "labelFontSize": 16, "labelLimit": 0, "labelOffset": 22, "rowPadding": 6, "labelExpr": "'Col-0'", "labelFontStyle": "normal"}}}},
  {"data": {"name": "b"}, "transform": [{"filter": "datum.t < 0"}], "mark": {"type": "point", "filled": true, "opacity": 1, "color": "#f5301e"},
   "encoding": {"shape": {"field": "s", "type": "nominal", "scale": {"domain": ["Y","M"], "range": ["M-1,-0.2H4.6V0.2H-1Z M1,-0.8H2.6V0.8H1Z", "M-1,-0.17H4.6V0.17H-1Z M1.8,-0.7L2.5,0.5H1.1Z"]},
    "legend": {"title": null, "orient": "none", "legendX": 19, "legendY": 35, "symbolSize": 100, "symbolStrokeWidth": 0, "labelFontSize": 16, "labelLimit": 0, "labelOffset": 22, "rowPadding": 6, "labelExpr": "datum.value == 'Y' ? 'pXVE::YFP-ANAC032/Col-0' : 'pXVE::YFP-ANAC032/myb30-2'", "labelFontStyle": "italic"}}}}
 ]}
], "spacing": 0, "bounds": "flush",
 "resolve": {"scale": {"x": "independent", "y": "independent", "shape": "independent", "color": "independent"}, "legend": {"shape": "independent", "color": "independent"}}}
],
"config": {
 "view": {"stroke": null},
 "font": "Liberation Sans",
 "axis": {"grid": false, "labelFont": "Liberation Sans", "titleFont": "Liberation Sans", "labelFlush": false, "labelOverlap": false, "titleFontWeight": "normal", "labelColor": "#222", "titleColor": "#111"},
 "legend": {"labelFont": "Liberation Sans", "labelColor": "#111"},
 "title": {"font": "Liberation Sans", "color": "#111"},
 "text": {"font": "Liberation Sans"}
}
}
